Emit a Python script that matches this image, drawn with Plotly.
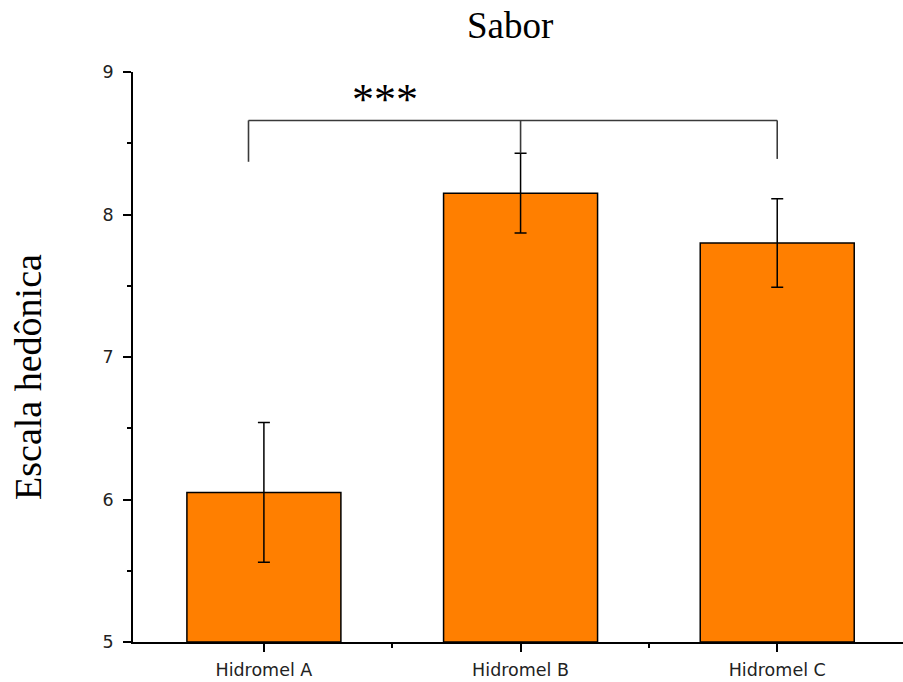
import plotly.graph_objects as go

# Sensory scores (hedonic scale) for flavour
categories = ["Hidromel A", "Hidromel B", "Hidromel C"]
means = [6.05, 8.15, 7.80]
errors = [0.49, 0.28, 0.31]

# Significance bracket: horizontal level, leg ends and stem
bracket_y = 8.66
bracket_left_x, bracket_left_end = -0.06, 8.37
bracket_right_x, bracket_right_end = 2.0, 8.39
bracket_stem_x, bracket_stem_end = 1.0, 8.43
sig_label = "***"
sig_label_x, sig_label_y = 0.47, 8.81

y_title = "Escala hedônica"

x = list(range(len(categories)))

fig = go.Figure()
fig.add_trace(go.Bar(
    x=x, y=[m - 5 for m in means], base=5,
    width=0.6,
    marker=dict(color="#FF7F00", line=dict(color="black", width=1.5)),
    error_y=dict(type="data", array=errors, color="black", thickness=1.5, width=6),
    hoverinfo="skip",
))

line_style = dict(color="#3a3a3a", width=1.6)
fig.add_shape(type="line", x0=bracket_left_x, x1=bracket_right_x, y0=bracket_y, y1=bracket_y, line=line_style)
fig.add_shape(type="line", x0=bracket_left_x, x1=bracket_left_x, y0=bracket_y, y1=bracket_left_end, line=line_style)
fig.add_shape(type="line", x0=bracket_right_x, x1=bracket_right_x, y0=bracket_y, y1=bracket_right_end, line=line_style)
fig.add_shape(type="line", x0=bracket_stem_x, x1=bracket_stem_x, y0=bracket_y, y1=bracket_stem_end, line=line_style)

fig.add_annotation(x=sig_label_x, y=sig_label_y, text=sig_label, showarrow=False,
                   font=dict(family="Liberation Serif", size=44, color="black"))

# Vertical axis label, placed slightly below the plot-area centre
fig.add_annotation(xref="paper", yref="paper", x=-0.1364, y=0.465,
                   xanchor="center", yanchor="middle", textangle=-90,
                   text=y_title, showarrow=False,
                   font=dict(family="Liberation Serif", size=38, color="black"))

fig.update_layout(
    width=903, height=682,
    margin=dict(l=133, r=0, t=72, b=40),
    paper_bgcolor="white", plot_bgcolor="white",
    showlegend=False,
    title=dict(text="Sabor", x=0.565, xanchor="center", y=0.963, yanchor="middle",
               font=dict(family="Liberation Serif", size=37, color="black")),
    xaxis=dict(
        range=[-0.51, 2.49],
        tickvals=x, ticktext=categories,
        showline=True, linecolor="black", linewidth=1.5,
        ticks="outside", ticklen=8, tickwidth=1.5, tickcolor="black",
        minor=dict(tickvals=[0.5, 1.5], ticks="outside", ticklen=4, tickwidth=1.5, tickcolor="black"),
        tickfont=dict(family="DejaVu Sans", size=17.5, color="#222"),
        ticklabelstandoff=3,
        showgrid=False, zeroline=False,
    ),
    yaxis=dict(
        range=[5, 9],
        tickvals=[5, 6, 7, 8, 9],
        showline=True, linecolor="black", linewidth=1.5,
        ticks="outside", ticklen=8, tickwidth=1.5, tickcolor="black",
        minor=dict(tickvals=[5.5, 6.5, 7.5, 8.5], ticks="outside", ticklen=4, tickwidth=1.5, tickcolor="black"),
        tickfont=dict(family="DejaVu Sans", size=17.5, color="#222"),
        ticklabelstandoff=6,
        showgrid=False, zeroline=False,
    ),
)

fig.write_html("out.html")
